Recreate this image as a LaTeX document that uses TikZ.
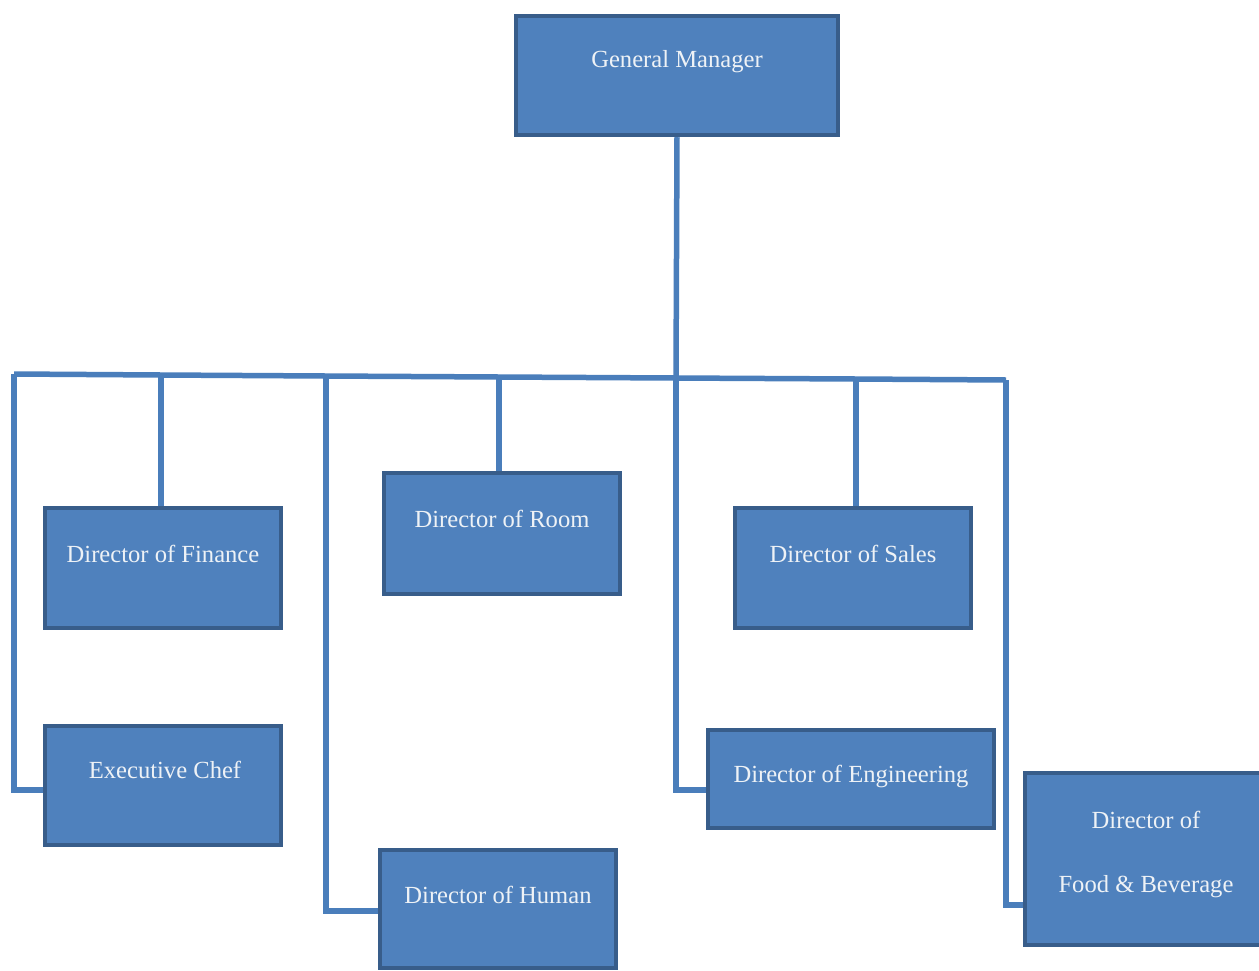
\documentclass[tikz,border=0pt]{standalone}
\usepackage{fontspec}
\setmainfont{Liberation Serif}
\usetikzlibrary{backgrounds}
\definecolor{boxfill}{HTML}{4F81BD}
\definecolor{boxline}{HTML}{385D8A}
\definecolor{conn}{HTML}{4A7EBB}
\definecolor{txt}{HTML}{EEF2F6}
\begin{document}
\begin{tikzpicture}[x=0.02cm,y=-0.02cm,
  box/.style={draw=boxline,fill=boxfill,line width=0.09cm,inner sep=0pt,rectangle},
  lbl/.style={text=txt,font=\fontsize{14}{16}\selectfont,inner sep=0pt},
  link/.style={draw=conn,line width=0.11cm}]
\useasboundingbox (0,0) rectangle (1259,971);
% boxes
\node[box,minimum width=6.44cm,minimum height=2.38cm] (gm) at (677,75.5) {};
\node[box,minimum width=4.72cm,minimum height=2.4cm] (fin) at (163,568) {};
\node[box,minimum width=4.72cm,minimum height=2.42cm] (room) at (502,533.5) {};
\node[box,minimum width=4.72cm,minimum height=2.4cm] (sales) at (853,568) {};
\node[box,minimum width=4.72cm,minimum height=2.38cm] (chef) at (163,785.5) {};
\node[box,minimum width=5.72cm,minimum height=1.96cm] (eng) at (851,779) {};
\node[box,minimum width=4.72cm,minimum height=2.36cm] (hum) at (498,909) {};
\node[box,minimum width=4.84cm,minimum height=3.44cm] (fb) at (1146,859) {};
% bus joints
\coordinate (bL) at (14,374);
\coordinate (jF) at (161,375);
\coordinate (jH) at (326,376);
\coordinate (jR) at (499,377);
\coordinate (jG) at (676,378);
\coordinate (jS) at (856,379);
\coordinate (bR) at (1006,380);
% links behind the boxes
\begin{scope}[on background layer]
\draw[link] (bL) -- (jF) -- (jH) -- (jR) -- (jG) -- (jS) -- (bR);
\draw[link] (gm.south) -- (jG);
\draw[link] (jG) |- ([yshift=-0.22cm]eng.west);
\draw[link] (bL) |- ([yshift=-0.09cm]chef.west);
\draw[link] (jF) -- (jF |- fin.north);
\draw[link] (jH) |- ([yshift=-0.04cm]hum.west);
\draw[link] (jR) -- (jR |- room.north);
\draw[link] (jS) -- (jS |- sales.north);
\draw[link] (bR) |- ([yshift=-0.92cm]fb.west);
\end{scope}
% labels
\node[lbl] (tgm) at (677,62) {General Manager};
\node[lbl] (tfin) at (163,554) {Director of Finance};
\node[lbl] (troom) at (502,519) {Director of Room};
\node[lbl] (tsales) at (853,554) {Director of Sales};
\node[lbl] (tchef) at (165,770) {Executive Chef};
\node[lbl] (teng) at (851,776) {Director of Engineering};
\node[lbl] (thum) at (498,895) {Director of Human};
\node[lbl] (tfb1) at (1146,820) {Director of};
\node[lbl] (tfb2) at (1146,887) {Food \& Beverage};
\end{tikzpicture}
\end{document}
